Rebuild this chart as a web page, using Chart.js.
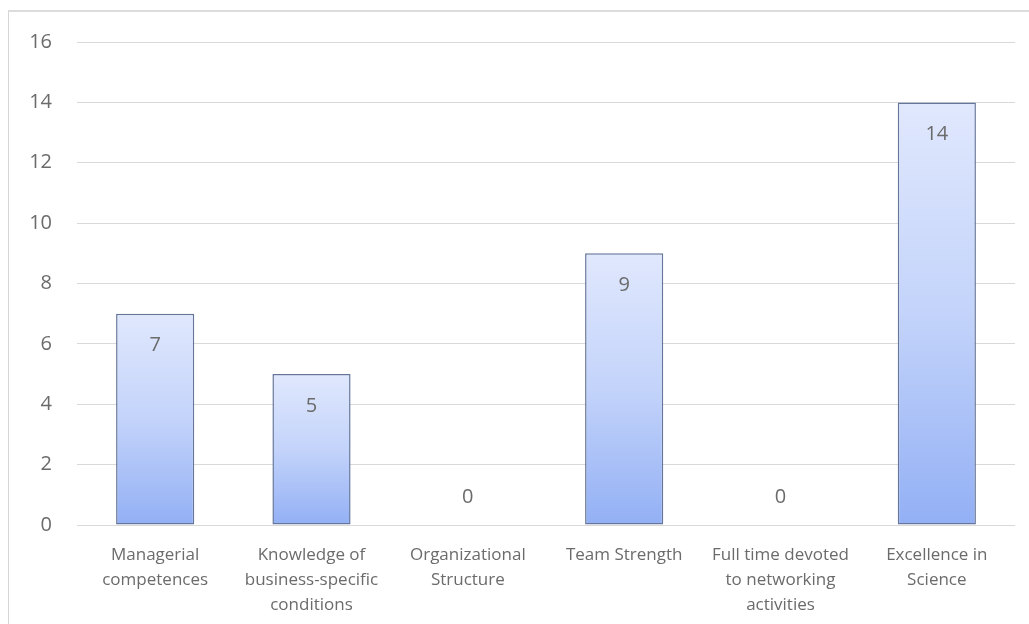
<!DOCTYPE html>
<html>
<head>
<meta charset="utf-8">
<script src="https://cdn.jsdelivr.net/npm/chart.js@4.4.1/dist/chart.umd.min.js"></script>
<style>
  html, body { margin: 0; padding: 0; background: #fff; }
  #wrap { position: relative; width: 1029px; height: 624px; }
  #frame {
    position: absolute; left: 8px; top: 10px; right: 0; bottom: 0;
    border-left: 1px solid #d6d6d6; border-top: 2px solid #dcdcdc;
  }
  canvas { position: absolute; left: 0; top: 0; }
</style>
</head>
<body>
<div id="wrap">
  <div id="frame"></div>
  <canvas id="barChart" width="1029" height="624"></canvas>
</div>
<script>
// Categories and counts
const categories = [
    ['Managerial', 'competences'],
    ['Knowledge of', 'business-specific', 'conditions'],
    ['Organizational', 'Structure'],
    ['Team Strength'],
    ['Full time devoted', 'to networking', 'activities'],
    ['Excellence in', 'Science']
];
const counts = [7, 5, 0, 9, 0, 14];
const yTicks = [0, 2, 4, 6, 8, 10, 12, 14, 16];

const textGray = '#6b6b6b';

// Vertical gradient per bar, light at the top and blue at the base
function barFill(context) {
    const chart = context.chart;
    if (!chart.chartArea || !chart.scales.y) return '#b9cbf8';
    const y = chart.scales.y;
    const v = context.raw || 0;
    const top = y.getPixelForValue(v);
    const base = y.getPixelForValue(0);
    if (base - top < 1) return '#b9cbf8';
    const g = chart.ctx.createLinearGradient(0, top, 0, base);
    g.addColorStop(0, '#e0e8fd');
    g.addColorStop(0.5, '#c3d3fa');
    g.addColorStop(1, '#93b0f5');
    return g;
}

// Value labels just inside the top of each bar (above the axis for zeros)
const valueLabels = {
    id: 'valueLabels',
    afterDatasetsDraw(chart) {
        const ctx = chart.ctx;
        const meta = chart.getDatasetMeta(0);
        ctx.save();
        ctx.font = '20px "Open Sans"';
        ctx.fillStyle = textGray;
        ctx.textAlign = 'center';
        ctx.textBaseline = 'middle';
        meta.data.forEach((bar, i) => {
            const v = counts[i];
            const y = v > 0 ? bar.y + 32 : bar.base - 28;
            ctx.fillText(String(v), bar.x, y);
        });
        ctx.restore();
    }
};

new Chart(document.getElementById('barChart'), {
    type: 'bar',
    data: {
        labels: categories,
        datasets: [{
            data: counts,
            backgroundColor: barFill,
            borderColor: '#65769a',
            borderWidth: (c) => (c.raw > 0 ? 1.5 : 0),
            borderSkipped: false,
            barPercentage: 0.5,
            categoryPercentage: 1.0
        }]
    },
    options: {
        responsive: false,
        animation: false,
        layout: { padding: { left: 0, right: 14, top: 42, bottom: 0 } },
        plugins: {
            legend: { display: false },
            tooltip: { enabled: false }
        },
        scales: {
            x: {
                grid: { display: false },
                border: { display: false },
                ticks: {
                    color: textGray,
                    font: { family: 'Open Sans', size: 17, lineHeight: 1.47 },
                    padding: 10,
                    maxRotation: 0,
                    autoSkip: false
                },
                afterFit(scale) { scale.height = 99; }
            },
            y: {
                min: 0,
                max: 16,
                afterBuildTicks(scale) { scale.ticks = yTicks.map(v => ({ value: v })); },
                grid: { color: '#d9d9d9', lineWidth: 1, drawTicks: false },
                border: { display: false },
                ticks: {
                    color: textGray,
                    font: { family: 'Open Sans', size: 20 },
                    padding: 25
                },
                afterFit(scale) { scale.width = 77; }
            }
        }
    },
    plugins: [valueLabels]
});
</script>
</body>
</html>
